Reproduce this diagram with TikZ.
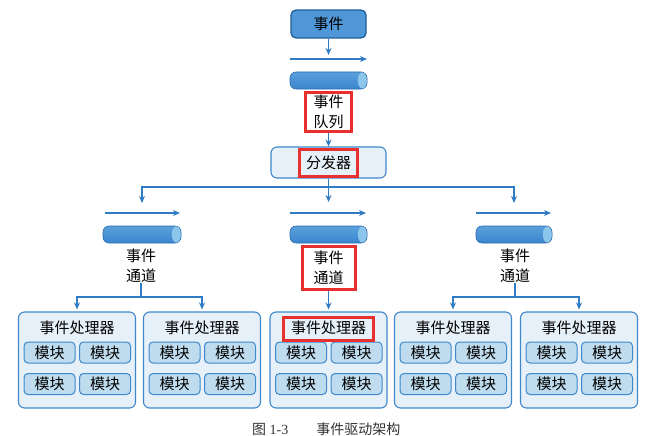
\documentclass[tikz,border=0pt]{standalone}
\usepackage{fontspec}
\setmainfont{Liberation Serif}
\newfontfamily\cjk{Noto Sans CJK SC}
\usetikzlibrary{arrows.meta}
\definecolor{arrowblue}{HTML}{2F7CC4}
\definecolor{darkblue}{HTML}{1F5F9A}
\definecolor{midblue}{HTML}{4F97D6}
\definecolor{edgeblue}{HTML}{3F88CA}
\definecolor{paleblue}{HTML}{E6F0F9}
\definecolor{modblue}{HTML}{BFDCEF}
\definecolor{tubeblue}{HTML}{3A85CC}
\definecolor{tubetop}{HTML}{5AA0DC}
\definecolor{tubeedge}{HTML}{2A6DAE}
\definecolor{capblue}{HTML}{8CC6EA}
\definecolor{hlred}{HTML}{E8302F}
\definecolor{captext}{HTML}{333333}
\tikzset{
  topbox/.style={draw=darkblue, line width=1.3pt, fill=midblue, rounded corners=5pt, minimum width=75pt, minimum height=28pt, inner sep=0pt},
  panel/.style={draw=edgeblue, line width=1.1pt, fill=paleblue, rounded corners=6pt, inner sep=0pt},
  module/.style={draw=edgeblue, line width=1pt, fill=modblue, rounded corners=4pt, minimum width=51pt, minimum height=21pt, inner sep=0pt},
  redbox/.style={draw=hlred, line width=3pt, inner sep=0pt},
  tube/.style={top color=tubetop, bottom color=tubeblue, draw=tubeedge, line width=0.6pt, rounded corners=6pt, minimum width=77pt, minimum height=17pt, inner sep=0pt},
  arr/.style={draw=arrowblue, line width=1.3pt, -{Stealth[length=7pt,width=6pt]}},
  conn/.style={draw=arrowblue, line width=1.3pt},
  lbl/.style={align=center, inner sep=0pt, font=\cjk\fontsize{15}{20}\selectfont}
}
\newcommand{\tubecap}[1]{\fill[capblue] ([xshift=-5pt]#1.east) ellipse [x radius=4.5pt, y radius=8pt];}
\begin{document}
\begin{tikzpicture}[x=1pt,y=-1pt, font=\cjk\fontsize{15}{18}\selectfont]
\useasboundingbox[fill=white] (0,0) rectangle (661,436);

% top event
\node[topbox] (ev) at (328.5,24) {事件};
\coordinate (evend) at (328.5,55);
\draw[arr] (ev.south) -- (evend);
\coordinate (fa0) at (290,59); \coordinate (fa1) at (367,59);
\draw[arr] (fa0) -- (fa1);
\node[tube] (q) at (328.5,80.5) {};
\tubecap{q}
\node[lbl, redbox, minimum width=46pt, minimum height=39pt] (ql) at (328.5,111.5) {事件\\队列};

% dispatcher
\node[panel, minimum width=115pt, minimum height=31pt] (d) at (328.5,162.5) {};
\node[redbox, minimum width=58pt, minimum height=27pt] (dl) at (328.5,162.5) {分发器};
\draw[arr] (ql.south) -- (d.north);

% distribution
\coordinate (jd) at (328.5,187);
\coordinate (t1) at (142,203);
\coordinate (t2) at (328.5,202);
\coordinate (t3) at (514,203);
\draw[arr] (d.south) -- (t2);
\draw[arr] (jd) -| (t1);
\draw[arr] (jd) -| (t3);

% flow arrows
\coordinate (f1a) at (105,213); \coordinate (f1b) at (180,213);
\coordinate (f2a) at (290,213); \coordinate (f2b) at (366,213);
\coordinate (f3a) at (476,213); \coordinate (f3b) at (551,213);
\draw[arr] (f1a) -- (f1b);
\draw[arr] (f2a) -- (f2b);
\draw[arr] (f3a) -- (f3b);

% channels
\node[tube, minimum width=78pt] (c1) at (142,234.5) {};
\node[tube, minimum width=77pt] (c2) at (328.5,234.5) {};
\node[tube, minimum width=76pt] (c3) at (514,234.5) {};
\tubecap{c1}
\tubecap{c2}
\tubecap{c3}
\node[lbl] (l1) at (141,266) {事件\\通道};
\node[lbl, redbox, minimum width=53pt, minimum height=43pt] (l2) at (328.5,267.5) {事件\\通道};
\node[lbl] (l3) at (515,266) {事件\\通道};

% processors
\foreach \n/\x in {p1/77, p2/202, p3/328.5, p4/453, p5/579}{
  \node[panel, minimum width=117pt, minimum height=96pt] (\n) at (\x,360) {};
  \node[inner sep=0pt] (\n t) at (\x,328) {事件处理器};
  \node[module] (\n m1) at (\x-27.5,352.5) {模块};
  \node[module] (\n m2) at (\x+28,352.5) {模块};
  \node[module] (\n m3) at (\x-27.5,384) {模块};
  \node[module] (\n m4) at (\x+28,384) {模块};
}
\node[redbox, minimum width=90pt, minimum height=23pt] (p3r) at (328.5,328.5) {};

% channel to processors
\coordinate (jl) at (141,297);
\coordinate (jr) at (515,297);
\draw[conn] (l1.south) -- (jl);
\draw[arr, shorten >=2pt] (jl) -| (p1.north);
\draw[arr, shorten >=2pt] (jl) -| (p2.north);
\draw[conn] (l3.south) -- (jr);
\draw[arr, shorten >=2pt] (jr) -| (p4.north);
\draw[arr, shorten >=2pt] (jr) -| (p5.north);
\draw[arr, shorten >=2pt] (l2.south) -- (p3.north);

% caption
\node[anchor=west, inner sep=0pt, text=captext, font=\fontsize{14}{17}\selectfont] (cap) at (252,429) {{\cjk 图} 1-3\hspace{2em}{\cjk 事件驱动架构}};
\end{tikzpicture}
\end{document}
